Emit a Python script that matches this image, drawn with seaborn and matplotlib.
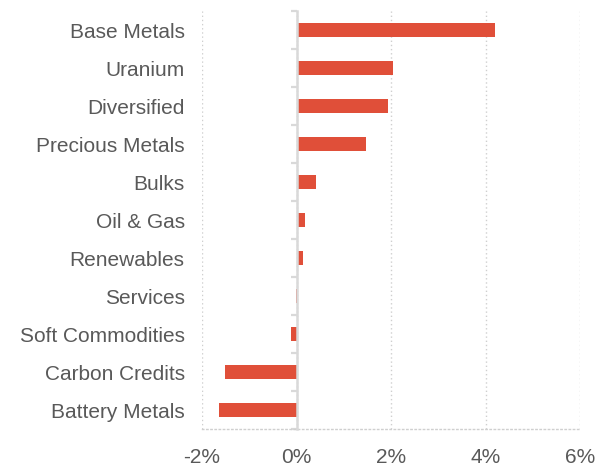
import matplotlib
matplotlib.use("Agg")
import matplotlib.pyplot as plt
import seaborn as sns
import pandas as pd
from matplotlib.ticker import FixedLocator

categories = ["Base Metals", "Uranium", "Diversified", "Precious Metals", "Bulks",
              "Oil & Gas", "Renewables", "Services", "Soft Commodities",
              "Carbon Credits", "Battery Metals"]
values = [4.20, 2.05, 1.93, 1.47, 0.42, 0.17, 0.13, -0.01, -0.11, -1.52, -1.65]
xticks = [-2, 0, 2, 4, 6]
xtick_labels = ["-2%", "0%", "2%", "4%", "6%"]

sns.set_style("white")
plt.rcParams['font.family'] = ['Liberation Sans', 'DejaVu Sans']

df = pd.DataFrame({"category": categories, "value": values})

fig = plt.figure(figsize=(5.96, 4.77), dpi=100)
ax = fig.add_axes([202/596, 1 - 430/477, (580 - 202)/596, (430 - 12)/477])

bar_color = "#E04F39"
text_color = "#595959"
grid_color = "#d9d9d9"

sns.barplot(data=df, x="value", y="category", orient="h", color=bar_color,
            width=0.35, saturation=1, linewidth=0, ax=ax, zorder=2)

ax.set_xlim(-2, 6)
ax.set_ylim(len(categories) - 0.5, -0.5)
ax.set_xticks(xticks)
ax.set_xticklabels(xtick_labels)
ax.set_xlabel("")
ax.set_ylabel("")

ax.xaxis.grid(True, linestyle=(0, (1, 2)), color="#cfcfcf", linewidth=1.0, zorder=0)
ax.yaxis.grid(False)
ax.set_axisbelow(True)

for s in ["top", "right"]:
    ax.spines[s].set_visible(False)
ax.spines["bottom"].set_linestyle((0, (1, 2)))
ax.spines["bottom"].set_color("#cfcfcf")
ax.spines["bottom"].set_linewidth(1.0)

ax.spines["left"].set_position(("data", 0))
ax.spines["left"].set_color(grid_color)
ax.spines["left"].set_linewidth(1.8)
ax.spines["left"].set_zorder(3)

ax.yaxis.set_minor_locator(FixedLocator([i - 0.5 for i in range(len(categories) + 1)]))
ax.tick_params(axis="y", which="both", left=True)
ax.tick_params(axis="y", which="major", length=0, pad=80.5, labelsize=15, labelcolor=text_color)
ax.tick_params(axis="y", which="minor", length=4.5, width=1.6, color=grid_color, direction="out")
ax.tick_params(axis="x", which="major", bottom=False, length=0, pad=13, labelsize=15, labelcolor=text_color)

fig.savefig("out.png", dpi=100, facecolor="white")
